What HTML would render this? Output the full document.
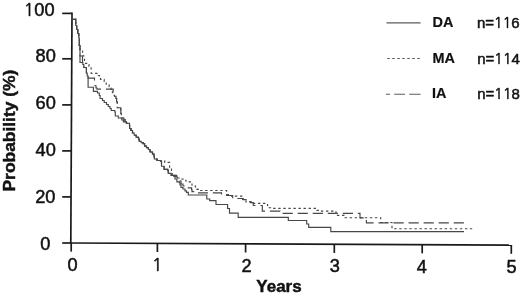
<!DOCTYPE html>
<html><head><meta charset="utf-8"><title>Kaplan-Meier</title>
<style>
html,body{margin:0;padding:0;background:#fff;}
body{width:520px;height:294px;overflow:hidden;}
svg{display:block;}
#w{width:520px;height:294px;}
text{font-family:"Liberation Sans",Arial,sans-serif;fill:#111;stroke:#111;stroke-width:0.5px;}
.t{font-size:18.2px;}
.b{font-weight:bold;stroke-width:0.45px;}
.lb{font-weight:bold;font-size:15.45px;stroke-width:0.2px;}
</style></head><body>
<div id="w"><svg width="520" height="294" viewBox="0 0 520 294">
<rect width="520" height="294" fill="#fff"/>
<g stroke="#1a1a1a" stroke-width="1.7" fill="none" stroke-linecap="butt">
<line x1="72.0" y1="12.6" x2="70.8" y2="243.0"/>
<line x1="70.0" y1="243.0" x2="512.1" y2="245.2"/>
<line x1="62.2" y1="243.0" x2="70.80" y2="243.0"/>
<line x1="62.2" y1="196.9" x2="71.04" y2="196.9"/>
<line x1="62.2" y1="150.9" x2="71.28" y2="150.9"/>
<line x1="62.2" y1="104.9" x2="71.52" y2="104.9"/>
<line x1="62.2" y1="58.8" x2="71.76" y2="58.8"/>
<line x1="62.2" y1="13.4" x2="72.00" y2="13.4"/>
<line x1="71.2" y1="243.00" x2="71.2" y2="251.60"/>
<line x1="157.4" y1="243.43" x2="157.4" y2="252.03"/>
<line x1="245.6" y1="243.87" x2="245.6" y2="252.47"/>
<line x1="334.3" y1="244.32" x2="334.3" y2="252.92"/>
<line x1="422.2" y1="244.76" x2="422.2" y2="253.36"/>
<line x1="511.3" y1="245.20" x2="511.3" y2="253.80"/>
</g>
<g fill="none" stroke-linejoin="miter" stroke-linecap="butt">
<path d="M72,13.4 V19.2 H75.8 V25.5 H76.8 V29.5 H77.8 V33.5 H78.8 V38 H79.3 V45.5 H80 V48 V62.5 H82.8 V64.5 H83.8 V67.5 H86.4 V73 H87.2 V76 H88.1 V87.2 H93.4 V91.3 H97.5 V93 H99.3 V95.5 H100.1 V98.5 H102.5 V100.5 H104.2 V102.5 H106.5 V104.5 H108.3 V106.5 H110 V108.5 H111.2 V110.5 H114.8 V112 H115.3 V116 H118.3 V118 H121.8 V120 H123.4 V122 H126.4 V123.2 H129.5 V125 H129.6 V128.5 H131 V130.5 H132.5 V133 H134.2 V135.2 H136.2 V137.2 H138.5 V139 H139.3 V141.2 H141.2 V142.6 H143.2 V143.6 H144.6 V146 H146.5 V147.6 H148.4 V149.5 H150.1 V152 H152.5 V154 H154 V156 H154.3 V159 H157 V160.5 H160.5 V161 H161.5 V166.2 H164.1 V169.3 H167.7 V170.3 H168.2 V173.4 H171.2 V175.4 H173.6 V176.1 H175 V179 H176.9 V181.8 H179.3 V182.6 H180 V185 H181 V187.5 H183 V189 H185 V190.8 H186.5 V192.4 H188.3 V195 H206.8 V199 H209.7 V200.6 H216 V204.5 H227.6 V208.5 H229.5 V213.1 H238.2 V217.4 H288.3 V220.5 H306.7 V224 H308.7 V227.4 H330.8 V231.6 H464" stroke="#474747" stroke-width="1.15"/>
<path d="M72,13.4 V19.2 H75.8 V25.5 H76.8 V29.5 H77.8 V33.5 H78.8 V38 H79.3 V45.5 H80 V48 V50 H82.6 V53.5 H83.2 V56 H84.5 V61.5 H85.5 V63.3 H86.8 V64.5 H89 V66.5 H90 V68 H91.2 V73.3 H98.3 V75.5 H99.3 V77.5 H100.5 V79.4 H104.2 V81.5 H105.5 V83 H106.2 V84.8 H109.1 V86.7 H110.5 V88 H111 V89.3 H112.4 V92.7 H113.5 V95.2 H114.5 V96.2 H116 V98.5 H116.6 V101.5 H117.2 V107.7 H120.8 V113.3 H121.3 V118 H123.9 V119.6 H125 V121.5 H126.4 V123.2 H129.5 V125 H129.6 V128.5 H131 V130.5 H132.5 V133 H134.2 V135.2 H136.2 V137.2 H138.5 V139 H139.3 V141.2 H141.2 V142.6 H143.2 V143.6 H144.6 V146 H146.5 V147.6 H148.4 V149.5 H150.1 V152 H152.5 V154 H154 V156 H154.3 V159 H157 V160.5 H160.5 V161 H164.8 V162.4 H169.6 V168.6 H171.5 V172.6 H172.2 V175.4 H177.7 V178 H180 V179 H183 V180.2 H186 V181.8 H191.6 V182.6 H192 V186 H195.5 V187.5 H197 V189.3 H198.5 V190.5 H226.6 V194.5 H228.4 V195.5 H231.4 V196.1 H242.6 V199.5 H246 V201.8 H252 V203.4 H267.5 V205.5 H269.2 V207.7 H273 V208.3 H316.8 V210.3 H318.5 V211.1 H336 V215.3 H344 V217.7 H380.7 V222.5 H392 V228.7 H472.2" stroke="#474747" stroke-width="1.15" stroke-dasharray="2.4 2.65" stroke-dashoffset="2.85"/>
<path d="M72,13.4 V19.2 H75.8 V25.5 H76.8 V29.5 H77.8 V33.5 H78.8 V38 H79.3 V45.5 H80 V48 V56 H82.5 V62.5 H82.8 V64.5 H83.8 V67.5 H86.4 V73 H87.2 V76 H88.1 V78.1 H94.5 V83.5 H95 V85.7 H96 V88 H97 V89.1 H113.2 V92.7 H113.5 V95.2 H114.5 V96.2 H116 V98.5 H116.6 V101.5 H117.2 V107.7 H120.8 V113.3 H121.3 V118 H123.9 V119.6 H125 V121.5 H126.4 V123.2 H129.5 V125 H129.6 V128.5 H131 V130.5 H132.5 V133 H134.2 V135.2 H136.2 V137.2 H138.5 V139 H139.3 V141.2 H141.2 V142.6 H143.2 V143.6 H144.6 V146 H146.5 V147.6 H148.4 V149.5 H150.1 V152 H152.5 V154 H154 V156 H154.3 V159 H157 V160.5 H160.5 V161 H161.5 V166.2 H164.1 V169.3 H167.7 V170.3 H168.2 V173.4 H171.2 V175.4 H174.8 V176.4 H177 V177.7 H180.2 V181 H181 V184 H183 V186 H185.9 V187.9 H191.6 V189.6 H192 V191.6 H198.5 V192.9 H221.5 V194.8 H226.5 V195.5 H232.7 V198.5 H243.2 V199.6 H246.2 V201.8 H250.7 V202.6 H253.3 V205.5 H262.3 V211.1 H280 V213.4 H360 V217.8 H366.4 V222.9 H464" stroke="#474747" stroke-width="1.15" stroke-dasharray="10.2 4.85" stroke-dashoffset="10.80"/>
</g>
<g class="t">
<text x="54.5" y="15.6" text-anchor="end"><tspan font-family="NanumGothic, 'Liberation Sans', sans-serif" font-size="17.2">1</tspan>00</text>
<text x="55.8" y="62" text-anchor="end">80</text>
<text x="55.8" y="109.2" text-anchor="end">60</text>
<text x="55.8" y="155.6" text-anchor="end">40</text>
<text x="55.4" y="203.1" text-anchor="end">20</text>
<text x="45.2" y="249.8" text-anchor="middle">0</text>
<text x="72.5" y="271.3" text-anchor="middle">0</text>
<text x="157.2" y="271.4" text-anchor="middle"><tspan font-family="NanumGothic, 'Liberation Sans', sans-serif" font-size="17.2">1</tspan></text>
<text x="246.6" y="271.7" text-anchor="middle">2</text>
<text x="334.8" y="272.1" text-anchor="middle">3</text>
<text x="421.7" y="272.8" text-anchor="middle">4</text>
<text x="511.5" y="272.9" text-anchor="middle">5</text>
</g>
<text class="b" x="279" y="291.5" text-anchor="middle" font-size="17">Years</text>
<text class="b" transform="translate(14.9,130.6) rotate(-90)" text-anchor="middle" font-size="17.4">Probability (%)</text>
<g stroke="#5c5c5c" stroke-width="1.15" fill="none">
<line x1="386.5" y1="22.8" x2="420.6" y2="22.8"/>
<line x1="387.2" y1="58.5" x2="420.6" y2="58.5" stroke-dasharray="2.6 2.4"/>
<line x1="385.8" y1="94.2" x2="420.6" y2="94.2" stroke-dasharray="4.2 4.2 10.8 4.2 11.4"/>
</g>
<g font-size="15">
<text class="lb" transform="translate(432.6,27.1) scale(0.935,1)">DA</text>
<text x="477" y="28.0">n=<tspan font-family="NanumGothic, 'Liberation Sans', sans-serif" font-size="14.2">11</tspan>6</text>
<text class="lb" transform="translate(432.6,63.1) scale(0.935,1)">MA</text>
<text x="477.2" y="64.0">n=<tspan font-family="NanumGothic, 'Liberation Sans', sans-serif" font-size="14.2">11</tspan>4</text>
<text class="lb" transform="translate(431.9,98.1) scale(0.935,1)">IA</text>
<text x="477.2" y="99.2">n=<tspan font-family="NanumGothic, 'Liberation Sans', sans-serif" font-size="14.2">11</tspan>8</text>
</g>
</svg></div>
</body></html>
